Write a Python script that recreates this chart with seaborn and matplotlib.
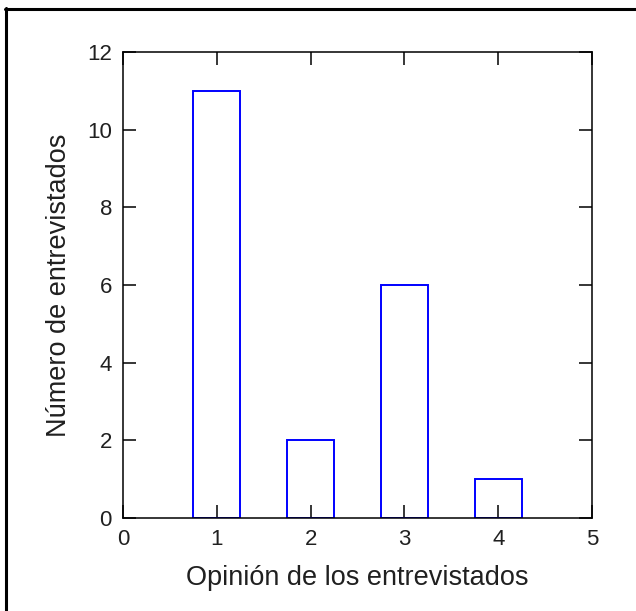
import matplotlib
matplotlib.use("Agg")
import matplotlib.pyplot as plt
from matplotlib.lines import Line2D
import seaborn as sns
import pandas as pd

opinion = [1, 2, 3, 4]
entrevistados = [11, 2, 6, 1]
x_ticks = [0, 1, 2, 3, 4, 5]
y_ticks = [0, 2, 4, 6, 8, 10, 12]

sns.set_style("ticks")
plt.rcParams['font.family'] = ['Liberation Sans', 'DejaVu Sans']

df = pd.DataFrame({"opinion": opinion, "n": entrevistados})

W, H = 636, 611
fig = plt.figure(figsize=(W / 100, H / 100), dpi=100)
ax = fig.add_axes([123 / W, 1 - 518 / H, (592 - 123) / W, (518 - 52) / H])

sns.barplot(data=df, x="opinion", y="n", native_scale=True, width=0.5,
            fill=False, edgecolor="#0000ff", linewidth=1.4, ax=ax)

ax.set_xlim(0, 5)
ax.set_ylim(0, 12)
ax.set_xticks(x_ticks)
ax.set_yticks(y_ticks)
ax.set_xlabel("Opinión de los entrevistados", fontsize=19.5, labelpad=11,
              color="#202020")
ax.set_ylabel("Número de entrevistados", fontsize=19.5, labelpad=11,
              color="#202020")
ax.tick_params(direction="in", length=9.5, width=1.1, labelsize=16,
               top=True, right=True, colors="black", labelcolor="#202020",
               pad=8)
for s in ax.spines.values():
    s.set_visible(True)
    s.set_linewidth(1.1)
    s.set_color("black")

# only the top and left edges of the outer frame are visible
fig.lines.append(Line2D([6 / W, 6 / W], [0, 1 - 8 / H], transform=fig.transFigure,
                        color="black", linewidth=2.2))
fig.lines.append(Line2D([5 / W, 1], [1 - 8.5 / H, 1 - 8.5 / H],
                        transform=fig.transFigure, color="black", linewidth=2.2))

fig.savefig("out.png", dpi=100)
